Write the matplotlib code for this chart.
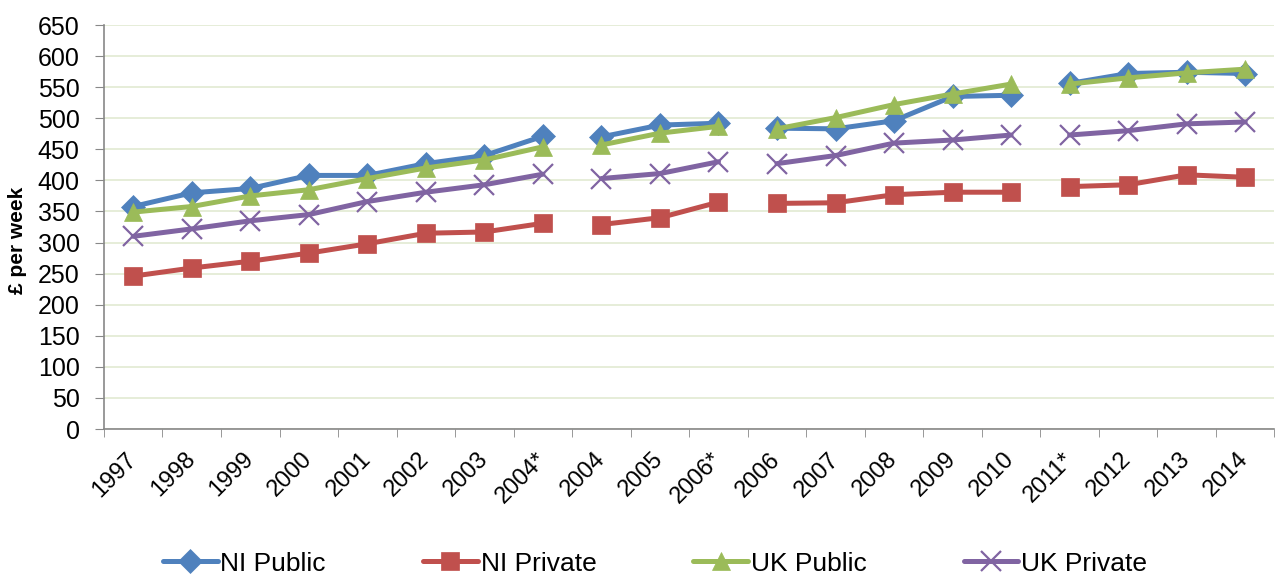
import matplotlib.pyplot as plt
import numpy as np

plt.rcParams['font.family'] = ['Liberation Sans', 'DejaVu Sans']

years = ['1997', '1998', '1999', '2000', '2001', '2002', '2003', '2004*',
         '2004', '2005', '2006*', '2006', '2007', '2008', '2009', '2010',
         '2011*', '2012', '2013', '2014']

ni_public = [358, 380, 387, 408, 408, 427, 440, 471,
             470, 489, 492, 484, 483, 496, 535, 537,
             556, 572, 574, 572]
ni_private = [246, 259, 270, 283, 298, 315, 317, 331,
              329, 340, 365, 363, 364, 377, 381, 381,
              390, 393, 409, 405]
uk_public = [349, 358, 375, 385, 403, 420, 433, 454,
             457, 476, 487, 483, 501, 522, 539, 555,
             555, 565, 573, 579]
uk_private = [310, 322, 335, 345, 366, 381, 393, 410,
              403, 411, 430, 427, 440, 460, 465, 473,
              473, 480, 491, 494]

# series breaks where the survey method changed
segments = [(0, 8), (8, 11), (11, 16), (16, 20)]

series = [
    ('NI Public', ni_public, '#4F81BD', 'D', 12.5),
    ('NI Private', ni_private, '#C0504D', 's', 13.5),
    ('UK Public', uk_public, '#9BBB59', '^', 13.5),
    ('UK Private', uk_private, '#8064A2', 'x', 14),
]

fig = plt.figure(figsize=(12.77, 5.74), dpi=100)
ax = fig.add_axes([0.0814, 0.2526, 0.9166, 0.7038])

x = np.arange(len(years))
for name, vals, color, marker, ms in series:
    vals = np.array(vals, dtype=float)
    for k, (a, b) in enumerate(segments):
        ax.plot(x[a:b], vals[a:b], color=color, lw=3.6, marker=marker,
                markersize=ms, markeredgewidth=1.6 if marker == 'x' else 0.5,
                markeredgecolor=color, label=name if k == 0 else None,
                solid_capstyle='round')

ax.set_xlim(-0.5, len(years) - 0.5)
ax.set_ylim(0, 650)
ax.set_yticks(np.arange(0, 651, 50))
ax.set_xticks(x)
ax.set_xticklabels(years, rotation=45, ha='right', va='center',
                   rotation_mode='anchor', fontsize=17)
ax.set_xticks(np.arange(-0.5, len(years)), minor=True)
ax.tick_params(axis='x', which='major', length=0, pad=19.5)
ax.tick_params(axis='x', which='minor', length=5.5, color='#888888')
ax.tick_params(axis='y', length=6.5, color='#888888', labelsize=18, pad=11)
ax.grid(axis='y', color='#E2EAD2', lw=1.2)
ax.set_axisbelow(True)
for s in ['top', 'right']:
    ax.spines[s].set_visible(False)
for s in ['left', 'bottom']:
    ax.spines[s].set_color('#888888')
    ax.spines[s].set_linewidth(1.2)
ax.set_ylabel('£ per week', fontsize=15, fontweight='bold')
ax.yaxis.set_label_coords(-0.066, 0.468)

fig.legend(loc='center left', bbox_to_anchor=(0.1274, 0.018), ncol=4,
           frameon=False, fontsize=19, handlelength=2.08, columnspacing=3.67,
           handletextpad=0.11, borderaxespad=0, borderpad=0)

fig.savefig('out.png', dpi=100)
